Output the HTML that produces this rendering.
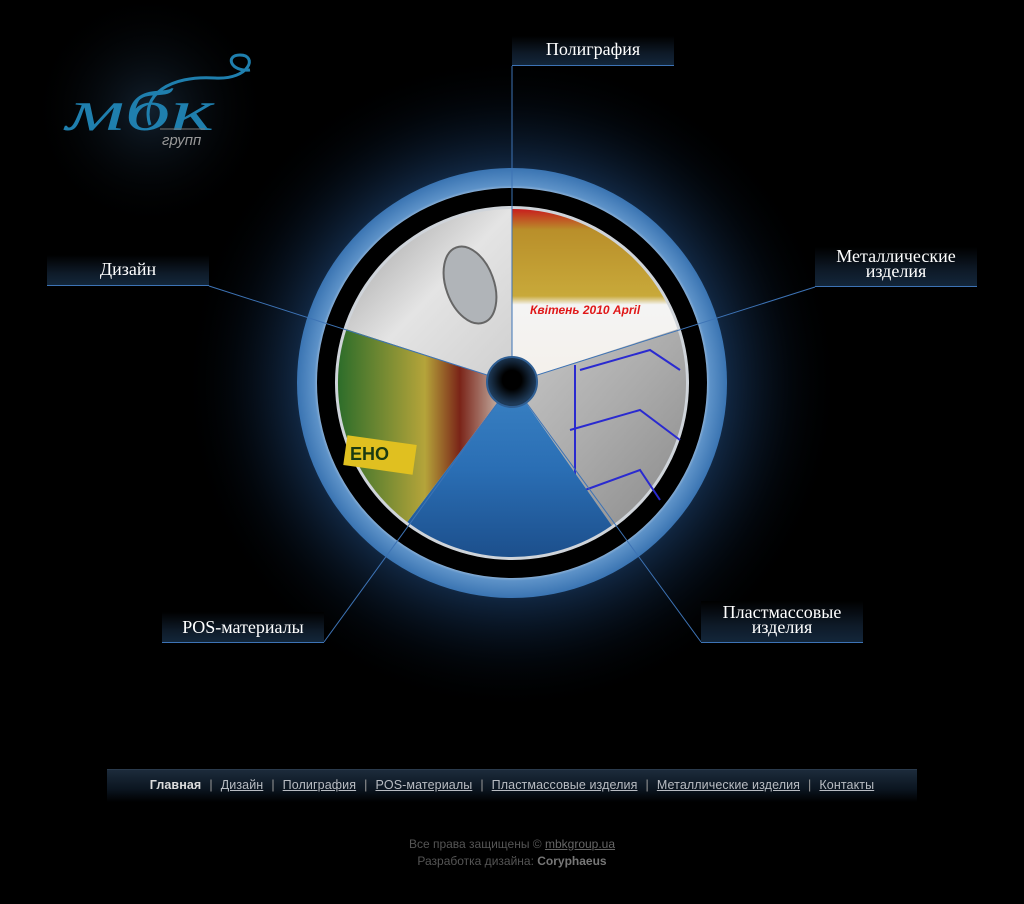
<!DOCTYPE html>
<html><head><meta charset="utf-8">
<style>
html,body{margin:0;padding:0;background:#000;width:1024px;height:904px;overflow:hidden;position:relative;font-family:"Liberation Sans",sans-serif}
.lbl{position:absolute;width:162px;background:linear-gradient(#000,#0e1a28 60%,#13263a);border-bottom:1px solid #3d73b5;color:#fff;font-family:"Liberation Serif","DejaVu Serif",serif;font-size:18px;text-align:center;line-height:15px;box-sizing:border-box}
.nav{position:absolute;left:107px;top:769px;width:810px;height:32px;background:linear-gradient(#1c2b3b,#0b1520 60%,#000);border-top:1px solid #2a3a4c;text-align:center;font-size:12.5px;color:#aaa;line-height:30px;letter-spacing:0.1px}
.nav a{color:#b8bcc2;text-decoration:underline}
.nav b{color:#ddd}
.nav span{margin:0 8px;color:#999}
.copy{position:absolute;top:836px;left:0;width:1024px;text-align:center;font-size:12px;color:#555;line-height:17px}
.copy a{color:#666;text-decoration:underline}
.copy b{color:#777}
</style></head><body>
<svg width="1024" height="904" style="position:absolute;left:0;top:0">
<defs>
<radialGradient id="glow" cx="512" cy="383" r="330" gradientUnits="userSpaceOnUse">
<stop offset="0.55" stop-color="#2d6fb8" stop-opacity="0.9"/>
<stop offset="0.66" stop-color="#1a3c66" stop-opacity="0.6"/>
<stop offset="0.85" stop-color="#071424" stop-opacity="0.3"/>
<stop offset="1" stop-color="#000" stop-opacity="0"/>
</radialGradient>
<radialGradient id="logoglow" cx="150" cy="110" r="120" gradientUnits="userSpaceOnUse">
<stop offset="0" stop-color="#12202e"/><stop offset="1" stop-color="#000" stop-opacity="0"/>
</radialGradient>
<radialGradient id="ring" cx="512" cy="383" r="215" gradientUnits="userSpaceOnUse">
<stop offset="0.88" stop-color="#dfe8f2"/><stop offset="0.92" stop-color="#5d92c8"/><stop offset="1" stop-color="#3a74b2"/>
</radialGradient>
<linearGradient id="g1" x1="0" y1="0" x2="1" y2="1"><stop offset="0" stop-color="#9a9a9a"/><stop offset="0.5" stop-color="#e4e4e4"/><stop offset="1" stop-color="#cfcfcf"/></linearGradient>
<linearGradient id="g2" x1="0" y1="0" x2="0" y2="1"><stop offset="0" stop-color="#c81d1d"/><stop offset="0.12" stop-color="#b98f2a"/><stop offset="0.5" stop-color="#c8a93a"/><stop offset="0.55" stop-color="#f4f4f4"/><stop offset="1" stop-color="#f4f0ea"/></linearGradient>
<linearGradient id="g3" x1="0" y1="0" x2="1" y2="1"><stop offset="0" stop-color="#c8c8c8"/><stop offset="0.5" stop-color="#ababab"/><stop offset="1" stop-color="#8a8a8a"/></linearGradient>
<linearGradient id="g4" x1="0" y1="0" x2="0" y2="1"><stop offset="0" stop-color="#3a82c4"/><stop offset="0.5" stop-color="#2a6eb4"/><stop offset="1" stop-color="#1c4f8c"/></linearGradient>
<linearGradient id="g5" x1="0" y1="0" x2="1" y2="0"><stop offset="0" stop-color="#2d6d2a"/><stop offset="0.5" stop-color="#b5a43a"/><stop offset="0.7" stop-color="#7a2418"/><stop offset="1" stop-color="#dcdcd0"/></linearGradient>
<radialGradient id="hub" cx="512" cy="380" r="24" gradientUnits="userSpaceOnUse"><stop offset="0.4" stop-color="#000"/><stop offset="1" stop-color="#1e3a58"/></radialGradient>
</defs>
<circle cx="150" cy="110" r="120" fill="url(#logoglow)"/>
<circle cx="512" cy="383" r="330" fill="url(#glow)"/>
<circle cx="512" cy="383" r="215" fill="url(#ring)"/>
<circle cx="512" cy="383" r="195" fill="#000"/>
<circle cx="512" cy="383" r="177" fill="#cfd4da"/>
<path d="M512 383 L346.5 329.2 A174 174 0 0 1 512 209 Z" fill="url(#g1)"/>
<ellipse cx="470" cy="285" rx="24" ry="40" transform="rotate(-20 470 285)" fill="#b0b4b8" stroke="#666" stroke-width="2"/>
<path d="M512 383 L512 209 A174 174 0 0 1 677.5 329.2 Z" fill="url(#g2)"/>
<text x="530" y="314" fill="#e01818" font-size="12" font-weight="bold" font-style="italic">Квітень 2010 April</text>
<path d="M512 383 L677.5 329.2 A174 174 0 0 1 611.8 525.5 Z" fill="url(#g3)"/>
<g stroke="#2a2ad0" stroke-width="2" fill="none"><path d="M580 370 L650 350 L680 370"/><path d="M570 430 L640 410 L680 440"/><path d="M585 490 L640 470 L660 500"/><path d="M575 365 L575 510"/></g>
<path d="M512 383 L611.8 525.5 A174 174 0 0 1 407.3 522 Z" fill="url(#g4)"/>
<path d="M512 383 L407.3 522 A174 174 0 0 1 346.5 329.2 Z" fill="url(#g5)"/>
<rect x="345" y="440" width="70" height="30" fill="#e0c020" transform="rotate(8 380 455)"/>
<text x="350" y="460" fill="#1a3a12" font-size="18" font-weight="bold">ЕНО</text>
<g stroke="#3d73b5" stroke-width="1" fill="none">
<path d="M512 66 L512 383"/>
<path d="M209 286 L512 383"/>
<path d="M815 287 L512 383"/>
<path d="M324 642 L512 383"/>
<path d="M701 642 L512 383"/>
</g>
<circle cx="512" cy="382" r="25" fill="url(#hub)" stroke="#2f5f94" stroke-width="2"/>
<text x="66" y="130" fill="#1f7fae" font-family="Liberation Serif,serif" font-style="italic" font-size="58" textLength="148" lengthAdjust="spacingAndGlyphs">мбк</text>
<path d="M150 125 C140 95 170 75 215 78 C250 80 258 55 240 55 C225 55 230 72 250 70" stroke="#1f7fae" stroke-width="3" fill="none"/>
<line x1="160" y1="129" x2="205" y2="129" stroke="#777" stroke-width="1"/>
<text x="162" y="145" fill="#999" font-size="15" font-style="italic">групп</text>
</svg>
<div class="lbl" style="left:512px;top:36px;height:30px;padding-top:6px">Полиграфия</div>
<div class="lbl" style="left:47px;top:255px;height:31px;padding-top:7px">Дизайн</div>
<div class="lbl" style="left:815px;top:247px;height:40px;padding-top:2px">Металлические<br>изделия</div>
<div class="lbl" style="left:162px;top:612px;height:31px;padding-top:8px">POS-материалы</div>
<div class="lbl" style="left:701px;top:601px;height:42px;padding-top:4px">Пластмассовые<br>изделия</div>
<div class="nav"><b>Главная</b><span>|</span><a>Дизайн</a><span>|</span><a>Полиграфия</a><span>|</span><a>POS-материалы</a><span>|</span><a>Пластмассовые изделия</a><span>|</span><a>Металлические изделия</a><span>|</span><a>Контакты</a></div>
<div class="copy">Все права защищены © <a>mbkgroup.ua </a><br>Разработка дизайна: <b>Coryphaeus</b></div>
</body></html>
